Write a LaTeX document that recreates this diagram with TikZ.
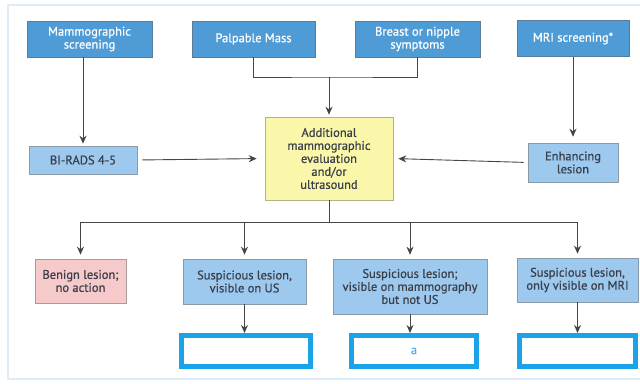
\documentclass[tikz,border=0pt]{standalone}
\usepackage{fontspec}
\setmainfont{PT Sans}
\newfontfamily\boxfont{PT Sans}[FakeBold=0.7]
\usepackage{xcolor}
\usetikzlibrary{arrows.meta}
\definecolor{topBlue}{HTML}{4F9BD6}
\definecolor{topEdge}{HTML}{5A7C98}
\definecolor{midBlue}{HTML}{9DC9EE}
\definecolor{midEdge}{HTML}{8A9AA8}
\definecolor{pinkFill}{HTML}{F6C9CB}
\definecolor{pinkEdge}{HTML}{A89A9A}
\definecolor{evalFill}{HTML}{FBF7AA}
\definecolor{evalEdge}{HTML}{B4B08A}
\definecolor{blankEdge}{HTML}{1BA3E9}
\definecolor{letterBlue}{HTML}{4AB4EA}
\definecolor{frameBlue}{HTML}{DCEDF9}
\definecolor{lineGray}{HTML}{454545}
\definecolor{textDark}{HTML}{3A3F4A}

\begin{document}
\begin{tikzpicture}[x=1pt, y=-1pt,
    every node/.style = {align=center, inner sep=0pt,
      font=\boxfont\fontsize{12.5}{13}\selectfont},
    start/.style    = {draw=topEdge, line width=0.6pt, fill=topBlue,
      text=white},
    finding/.style  = {draw=midEdge, line width=0.6pt, fill=midBlue,
      text=textDark},
    benign/.style   = {draw=pinkEdge, line width=0.6pt, fill=pinkFill,
      text=textDark},
    evalbox/.style  = {draw=evalEdge, line width=0.6pt, fill=evalFill,
      text=textDark},
    blank/.style    = {draw=blankEdge, line width=5pt, fill=white,
      text=letterBlue},
    link/.style     = {draw=lineGray, line width=0.9pt},
    arr/.style      = {link, -{Stealth[length=8pt,width=7pt]}},
  ]
  \clip (0,0) rectangle (640,383);
  \useasboundingbox (0,0) rectangle (640,383);
  \draw[frameBlue, line width=1.5pt] (650,5) -| (8,379) -- (650,379);

  % sources
  \node[start, minimum width=125pt, minimum height=36pt] (mamScreen)
    at (89.5,39) {Mammographic\\screening};
  \node[start, minimum width=123pt, minimum height=36pt] (palpable)
    at (253.5,39) {Palpable Mass};
  \node[start, minimum width=125pt, minimum height=36pt] (breast)
    at (417.5,39) {Breast or nipple\\symptoms};
  \node[start, minimum width=112pt, minimum height=36pt] (mriScreen)
    at (573,38.5) {MRI screening*};

  % middle row
  \node[finding, minimum width=108pt, minimum height=28pt] (birads)
    at (83,160) {BI-RADS 4-5};
  \node[evalbox, minimum width=128pt, minimum height=83pt] (addEval)
    at (329,158.5) {Additional\\mammographic\\evaluation\\and/or\\ultrasound};
  \node[finding, minimum width=90pt, minimum height=39pt] (enhancing)
    at (573,162.5) {Enhancing\\lesion};

  % outcomes
  \node[benign, minimum width=91pt, minimum height=44pt] (benignLes)
    at (80.5,281) {Benign lesion;\\no action};
  \node[finding, minimum width=123pt, minimum height=45pt] (suspUS)
    at (244.5,281.5) {Suspicious lesion,\\visible on US};
  \node[finding, minimum width=154pt, minimum height=55pt] (suspMammo)
    at (410,286.5) {Suspicious lesion;\\visible on mammography\\but not US};
  \node[finding, minimum width=121pt, minimum height=44pt] (suspMRI)
    at (577.5,280) {Suspicious lesion,\\only visible on MRI};

  % empty answer boxes
  \node[blank, minimum width=129pt, minimum height=31pt] (blankUS)
    at (246,351) {};
  \node[blank, minimum width=125pt, minimum height=31pt] (blankMammo)
    at (414,351) {a};
  \node[blank, minimum width=116pt, minimum height=31pt] (blankMRI)
    at (577.5,351) {};

  \coordinate (join) at (329,77);
  \coordinate (branch) at (329,222);

  \draw[arr, shorten >=2pt] (birads |- mamScreen.south) -- (birads.north);
  \draw[link] (palpable.south) |- (join) -| (breast.south);
  \draw[arr, shorten >=2pt] (join) -- (addEval.north);
  \draw[arr, shorten >=6pt] (mriScreen.south) -- (enhancing.north);
  \draw[arr, shorten <=5pt, shorten >=8pt] (birads.east) -- (addEval.west);
  \draw[arr, shorten <=4pt, shorten >=5pt] (enhancing.west) -- (addEval.east);

  \draw[link] (addEval.south) -- (branch);
  \draw[link] (branch -| benignLes) -- (branch -| suspMRI);
  \foreach \target in {benignLes, suspUS, suspMammo, suspMRI}
    \draw[arr, shorten >=4pt] (branch -| \target) -- (\target.north);

  \draw[arr] (suspUS.south) -- (blankUS.north -| suspUS);
  \draw[arr] (suspMammo.south) -- (blankMammo.north -| suspMammo);
  \draw[arr] (suspMRI.south) -- (blankMRI.north -| suspMRI);
\end{tikzpicture}
\end{document}
